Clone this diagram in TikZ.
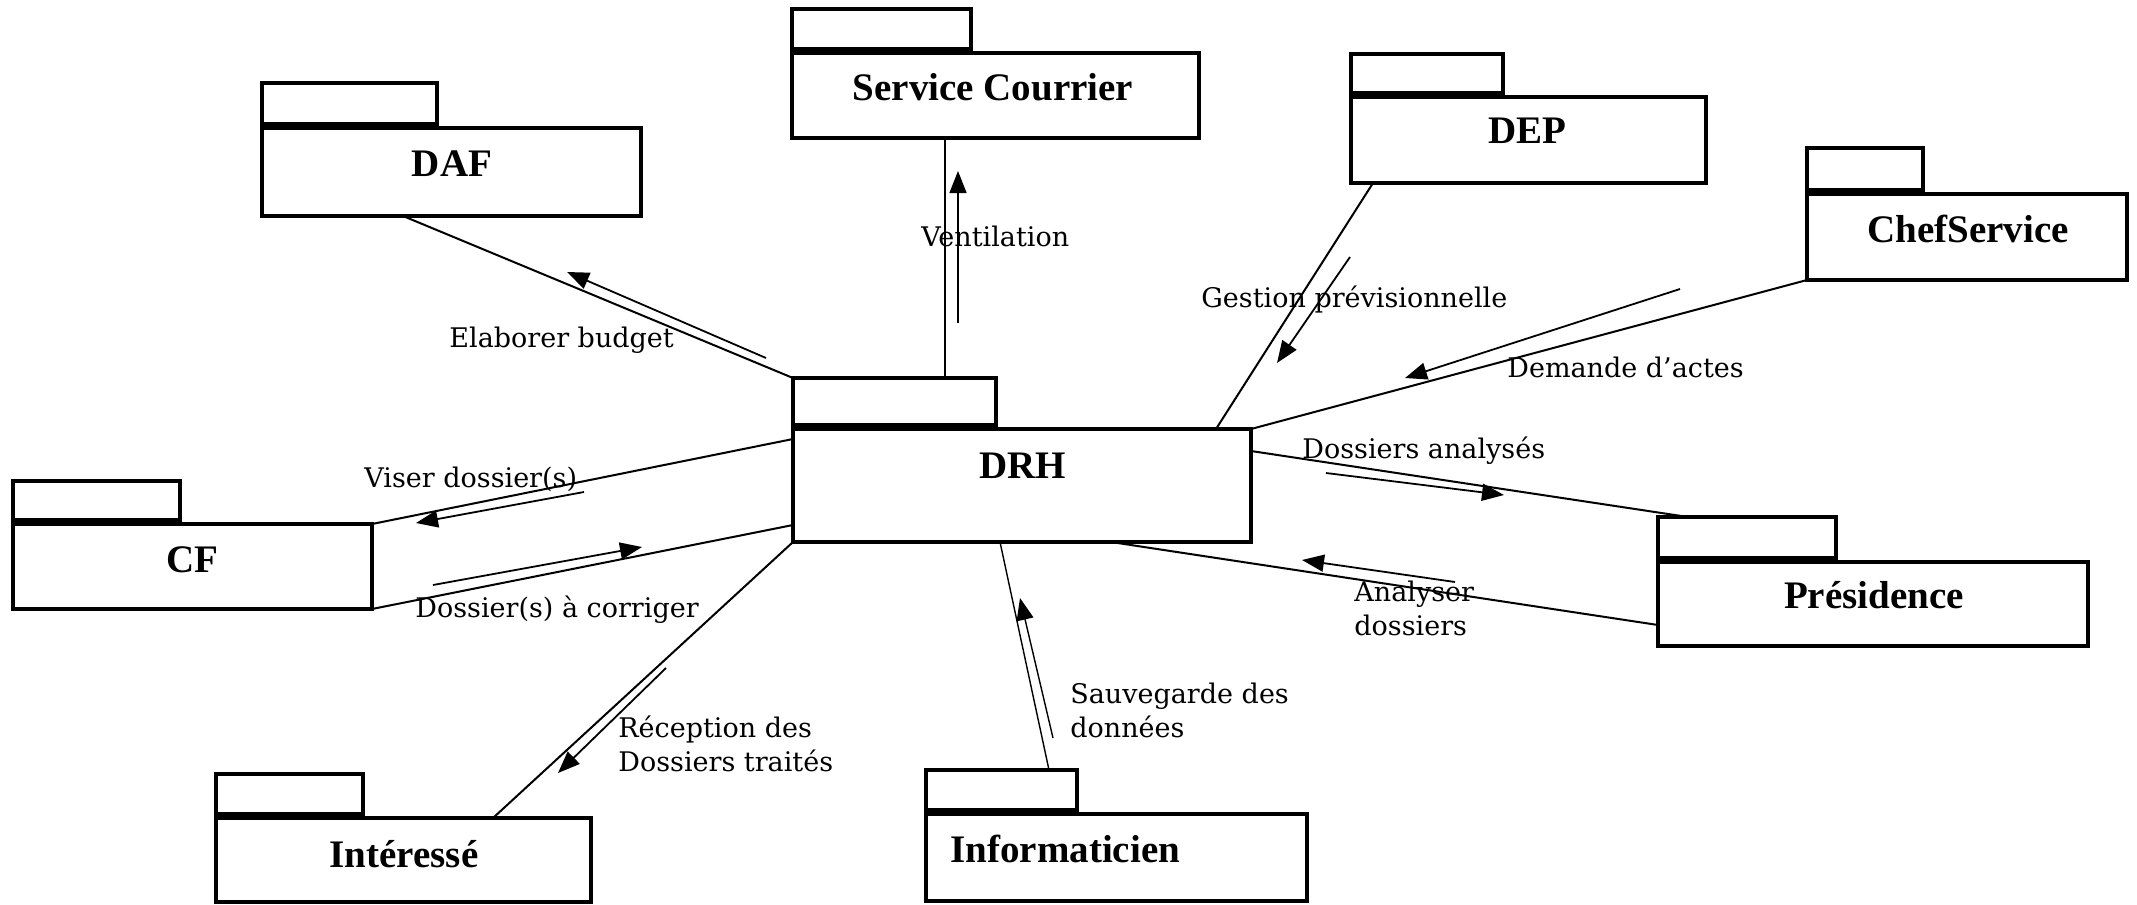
\documentclass[tikz,border=0pt]{standalone}
\usepackage{fontspec}
\setmainfont{DejaVu Serif}
\newfontfamily\boxfont{Liberation Serif}
\usetikzlibrary{calc,arrows.meta}

% UML package: tab on top of a body rectangle
% #1 name, #2 left, #3 body top, #4 right, #5 bottom, #6 tab right, #7 tab top
\newcommand\umlpackage[7]{%
  \node[pkgpart, anchor=north west,
        minimum width={(#6-#2)*0.5pt}, minimum height={(#3-4-#7)*0.5pt}] (#1-tab) at (#2,#7) {};
  \node[pkgpart, anchor=north west,
        minimum width={(#4-#2)*0.5pt}, minimum height={(#5-#3)*0.5pt}] (#1) at (#2,#3) {};}

\begin{document}
\begin{tikzpicture}[x=0.5pt,y=-0.5pt,
  pkgpart/.style={draw, line width=2.4pt, inner sep=0pt, outer sep=0pt},
  title/.style={font=\boxfont\bfseries\fontsize{19.5}{23}\selectfont, inner sep=0pt, anchor=base},
  link/.style={line width=1pt},
  thinlink/.style={line width=0.7pt},
  flow/.style={line width=0.9pt, -{Triangle[length=11pt,width=8.5pt]}},
  lbl/.style={font=\fontsize{13.5}{17}\selectfont, inner sep=0pt, anchor=base west, align=left},
]
\useasboundingbox (0,0) rectangle (2137,905);

% packages
\umlpackage{sc}{792}{53}{1199}{138}{971}{9}
\umlpackage{daf}{262}{128}{641}{216}{437}{83}
\umlpackage{dep}{1351}{97}{1706}{183}{1503}{54}
\umlpackage{chef}{1807}{194}{2127}{280}{1923}{148}
\umlpackage{drh}{793}{429}{1251}{542}{996}{378}
\umlpackage{cf}{13}{524}{372}{609}{180}{481}
\umlpackage{int}{216}{818}{591}{902}{363}{774}
\umlpackage{inf}{926}{814}{1307}{901}{1077}{770}
\umlpackage{pres}{1658}{562}{2088}{646}{1836}{517}

% package titles
\node[title] (sc-t) at (993,100) {Service Courrier};
\node[title] (daf-t) at (452,176) {DAF};
\node[title] (dep-t) at (1527,143) {DEP};
\node[title] (chef-t) at (1968,242) {ChefService};
\node[title] (drh-t) at (1023,478) {DRH};
\node[title] (cf-t) at (192,572) {CF};
\node[title] (int-t) at (404,867) {Intéressé};
\node[title, anchor=base west] (inf-t) at (950,862) {Informaticien};
\node[title] (pres-t) at (1874,608) {Présidence};

% links between packages
\coordinate (sc-foot) at ($(sc.south west)+(153,0)$);
\draw[link] ($(daf.south west)+(141,0)$) -- (drh-tab.north west);
\draw[thinlink] (sc-foot) -- (sc-foot |- drh-tab.north);
\draw[link] ($(dep.south west)+(22,0)$) -- ($(drh.north west)+(423,0)$);
\draw[link] (chef.south west) -- (drh.north east);
\draw[link] ($(drh.north east)+(0,22)$) -- ($(pres-tab.north west)+(30,0)$);
\draw[link] ($(drh.south west)+(318,0)$) -- ($(pres.north west)+(0,63)$);
\draw[link] (cf.north east) -- ($(drh.north west)+(0,10)$);
\draw[link] (cf.south east) -- ($(drh.north west)+(0,96)$);
\draw[link] (drh.south west) -- ($(int.north west)+(277,0)$);
\draw[thinlink] ($(drh.south west)+(207,0)$) -- ($(inf-tab.north west)+(123,0)$);

% message arrows
\coordinate (budget-s) at (766,358);  \coordinate (budget-e) at (567,272);
\coordinate (vent-s) at (958,323);    \coordinate (vent-e) at (958,171);
\coordinate (gest-s) at (1350,257);   \coordinate (gest-e) at (1277,363);
\coordinate (dem-s) at (1680,289);    \coordinate (dem-e) at (1405,378);
\coordinate (anal-s) at (1326,473);   \coordinate (anal-e) at (1504,495);
\coordinate (ana2-s) at (1455,582);   \coordinate (ana2-e) at (1302,560);
\coordinate (viser-s) at (584,492);   \coordinate (viser-e) at (416,523);
\coordinate (corr-s) at (433,585);    \coordinate (corr-e) at (642,547);
\coordinate (recep-s) at (666,668);   \coordinate (recep-e) at (558,773);
\coordinate (sauv-s) at (1053,738);   \coordinate (sauv-e) at (1020,598);
\draw[flow] (budget-s) -- (budget-e);
\draw[flow, line width=0.7pt] (vent-s) -- (vent-e);
\draw[flow] (gest-s) -- (gest-e);
\draw[flow] (dem-s) -- (dem-e);
\draw[flow] (anal-s) -- (anal-e);
\draw[flow] (ana2-s) -- (ana2-e);
\draw[flow] (viser-s) -- (viser-e);
\draw[flow] (corr-s) -- (corr-e);
\draw[flow] (recep-s) -- (recep-e);
\draw[flow, line width=0.7pt] (sauv-s) -- (sauv-e);

% message labels (multi-line labels sit on the baseline of their last line)
\node[lbl] (l-vent) at (921,246) {Ventilation};
\node[lbl] (l-budget) at (449,347) {Elaborer budget};
\node[lbl] (l-gest) at (1201,307) {Gestion prévisionnelle};
\node[lbl] (l-dem) at (1507,377) {Demande d’actes};
\node[lbl] (l-anal) at (1302,458) {Dossiers analysés};
\node[lbl] (l-viser) at (364,487) {Viser dossier(s)};
\node[lbl] (l-corr) at (415,617) {Dossier(s) à corriger};
\node[lbl] (l-ana2) at (1354,635) {Analyser\\dossiers};
\node[lbl] (l-recep) at (618,771) {Réception des\\Dossiers traités};
\node[lbl] (l-sauv) at (1070,737) {Sauvegarde des\\données};
\end{tikzpicture}
\end{document}
